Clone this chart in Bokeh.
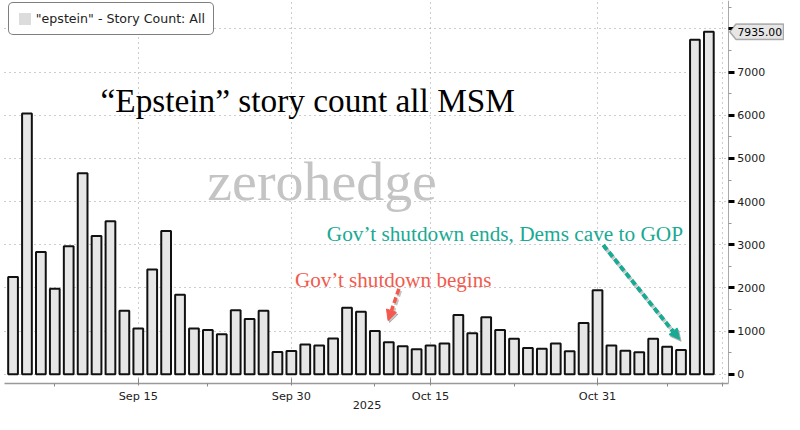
from datetime import datetime
from bokeh.plotting import figure
from bokeh.models import (Range1d, FixedTicker, Label, Arrow, NormalHead,
                          PolyAnnotation, Legend, LegendItem)
from bokeh.embed import file_html
from bokeh.resources import INLINE

# ---- data (business days, Bloomberg story count) ----
dates = [
    "2025-09-02", "2025-09-03", "2025-09-04", "2025-09-05", "2025-09-08",
    "2025-09-09", "2025-09-10", "2025-09-11", "2025-09-12", "2025-09-15",
    "2025-09-16", "2025-09-17", "2025-09-18", "2025-09-19", "2025-09-22",
    "2025-09-23", "2025-09-24", "2025-09-25", "2025-09-26", "2025-09-29",
    "2025-09-30", "2025-10-01", "2025-10-02", "2025-10-03", "2025-10-06",
    "2025-10-07", "2025-10-08", "2025-10-09", "2025-10-10", "2025-10-14",
    "2025-10-15", "2025-10-16", "2025-10-17", "2025-10-20", "2025-10-21",
    "2025-10-22", "2025-10-23", "2025-10-24", "2025-10-27", "2025-10-28",
    "2025-10-29", "2025-10-30", "2025-10-31", "2025-11-03", "2025-11-04",
    "2025-11-05", "2025-11-06", "2025-11-07", "2025-11-10", "2025-11-12",
    "2025-11-13",
]
story_count = [
    2252, 6042, 2832, 1984, 2965, 4660, 3202, 3545, 1471, 1061,
    2430, 3322, 1842, 1061, 1025, 928, 1485, 1284, 1475, 520,
    542, 691, 669, 832, 1545, 1449, 1003, 742, 653, 580,
    669, 713, 1373, 950, 1322, 1025, 825, 609, 593, 713,
    535, 1188, 1946, 669, 549, 513, 825, 638, 564, 7750,
    7935,
]
axis_dates = dates + ["2025-11-14"]
major_tick_dates = ["2025-09-15", "2025-09-30", "2025-10-15", "2025-10-31"]
minor_tick_dates = ["2025-09-05", "2025-09-22", "2025-10-08", "2025-10-23",
                    "2025-11-07", "2025-11-14"]
grid_dates = major_tick_dates + ["2025-11-14"]
y_ticks = [0, 1000, 2000, 3000, 4000, 5000, 6000, 7000, 8000]
year_label = "2025"
series_name = '"epstein" - Story Count: All'
title_text = "\u201cEpstein\u201d story count all MSM"
watermark = "zerohedge"
note_begin = "Gov\u2019t shutdown begins"
note_end = "Gov\u2019t shutdown ends, Dems cave to GOP"

idx = list(range(len(dates)))
pos = {d: i for i, d in enumerate(axis_dates)}

SANS = "DejaVu Sans"
SERIF = "Liberation Serif"
RED = "#f35a4d"
TEAL = "#19aa94"
BAR_FILL = "#e6e6e6"

W, H = 784, 414          # canvas
REF_W, REF_H = 800, 430  # layout grid
BAR0, BAR_STEP = 12.8, 14.2      # layout grid: first bar centre, bar pitch
ZERO, PX_PER_UNIT = 388.3, 0.04485


def rx(px):
    """layout-grid x pixel -> data x"""
    return (px - BAR0) / BAR_STEP


def ry(py):
    """layout-grid y pixel -> data y"""
    return (ZERO - py) / PX_PER_UNIT


def fs(size):
    return f"{size * W / REF_W:.1f}px"


p = figure(width=W, height=H, output_backend="svg", toolbar_location=None,
           x_range=Range1d(rx(0), rx(REF_W)), y_range=Range1d(ry(REF_H), ry(0)),
           y_axis_location="right", min_border=0, min_border_left=0,
           min_border_top=0, min_border_right=0, min_border_bottom=0,
           outline_line_color=None, background_fill_color="white",
           border_fill_color="white")

FRAME_L, FRAME_R, FRAME_B, FRAME_T = rx(4), rx(742.5), ry(398.3), ry(0)

bars = p.vbar(x=idx, top=story_count, bottom=0, width=0.7,
              fill_color=BAR_FILL, line_color="#111111", line_width=2)

# grid
p.xgrid.ticker = FixedTicker(ticks=[pos[d] for d in grid_dates])
p.ygrid.ticker = FixedTicker(ticks=y_ticks)
for g in (p.xgrid, p.ygrid):
    g.grid_line_color = "#9a9a9a"
    g.grid_line_dash = "1 4"
    g.grid_line_width = 1
p.xgrid.cross_bounds = (FRAME_B, FRAME_T)
p.ygrid.cross_bounds = (FRAME_L, FRAME_R)

# x axis
xa = p.xaxis[0]
xa.fixed_location = FRAME_B
xa.bounds = (FRAME_L, FRAME_R)
xa.ticker = FixedTicker(ticks=[pos[d] for d in major_tick_dates],
                        minor_ticks=[pos[d] for d in minor_tick_dates])
xa.major_label_overrides = {
    pos[d]: datetime.strptime(d, "%Y-%m-%d").strftime("%b %-d")
    for d in major_tick_dates}
xa.axis_line_color = "#999999"
xa.axis_line_width = 1.5
xa.major_tick_line_color = "#888888"
xa.major_tick_in = 5
xa.major_tick_out = 2
xa.minor_tick_line_color = "#888888"
xa.minor_tick_in = 0
xa.minor_tick_out = 3
xa.major_label_standoff = 3
xa.major_label_text_font = SANS
xa.major_label_text_font_size = fs(11.5)
xa.major_label_text_color = "#222222"

# y axis (right)
ya = p.yaxis[0]
ya.fixed_location = FRAME_R
ya.bounds = (FRAME_B, FRAME_T)
ya.ticker = FixedTicker(ticks=y_ticks, minor_ticks=[t + 500 for t in y_ticks])
ya.major_label_overrides = {y_ticks[-1]: ""}
ya.axis_line_color = "#aaaaaa"
ya.axis_line_width = 1
ya.major_tick_line_color = "black"
ya.major_tick_line_width = 3
ya.major_tick_in = 0
ya.major_tick_out = 6
ya.minor_tick_line_color = "#999999"
ya.minor_tick_in = 0
ya.minor_tick_out = 3
ya.major_label_standoff = 3
ya.major_label_text_font = SANS
ya.major_label_text_font_size = fs(11.2)
ya.major_label_text_color = "#222222"

# year label under axis
p.add_layout(Label(x=rx(374), y=ry(420.5), text=year_label,
                   text_font=SANS, text_font_size=fs(11.5),
                   text_color="#222222", text_align="center",
                   text_baseline="alphabetic"))

# watermark & title
p.add_layout(Label(x=rx(211), y=ry(187), text=watermark,
                   text_font=SERIF, text_font_size=fs(57),
                   text_color="#c4c4c4", text_align="left",
                   text_baseline="alphabetic"))
p.add_layout(Label(x=rx(313.5), y=ry(103.5), text=title_text,
                   text_font=SERIF, text_font_size=fs(34),
                   text_color="black", text_align="center",
                   text_baseline="alphabetic"))

# annotations
p.add_layout(Label(x=rx(300.5), y=ry(290.5), text=note_begin,
                   text_font=SERIF, text_font_size=fs(21.5),
                   text_color=RED, text_align="left",
                   text_baseline="alphabetic"))
p.add_layout(Label(x=rx(696.5), y=ry(242.5), text=note_end,
                   text_font=SERIF, text_font_size=fs(21.7),
                   text_color=TEAL, text_align="right",
                   text_baseline="alphabetic"))


def add_arrow(xs, ys, xe, ye, color, width):
    for dx, dy, col, alpha in ((1.5, 2, "#555555", 0.35), (0, 0, color, 1.0)):
        p.add_layout(Arrow(
            end=NormalHead(size=10.5, fill_color=col, line_color=col,
                           fill_alpha=alpha, line_alpha=alpha),
            x_start=rx(xs + dx), y_start=ry(ys + dy),
            x_end=rx(xe + dx), y_end=ry(ye + dy),
            line_color=col, line_alpha=alpha, line_width=width,
            line_dash="6 3"))


add_arrow(406.5, 299.5, 395.5, 332.5, RED, 3.5)
add_arrow(615, 254, 693, 352, TEAL, 4)

# last value tag
last = story_count[-1]
half = ry(0) - ry(8)  # 8 px in data units
p.add_layout(PolyAnnotation(
    xs=[rx(744), rx(750.5), rx(799), rx(799), rx(750.5)],
    ys=[last, last + half, last + half, last - half, last - half],
    fill_color="#e6e6e6", fill_alpha=1, line_color="black", line_width=1.5))
p.add_layout(Label(x=rx(752), y=last, text=f"{last:.2f}",
                   text_font=SANS, text_font_size=fs(11),
                   text_color="black", text_align="left",
                   text_baseline="middle"))

# legend (swatch from an invisible copy of the series, no outline)
swatch = p.vbar(x=idx, top=story_count, bottom=0, width=0.7,
                fill_color="#dcdcdc", line_color=None, visible=False)
legend = Legend(items=[LegendItem(label=series_name, renderers=[swatch])],
                location=(8 * W / REF_W, (REF_H - 36) * H / REF_H), margin=0,
                padding=8, glyph_width=15, glyph_height=15, label_height=15,
                label_standoff=4, label_text_font=SANS,
                label_text_font_size=fs(12.9), label_text_color="#222222",
                border_line_color="black", border_line_width=1,
                background_fill_color="white", background_fill_alpha=1)
if "border_radius" in Legend.properties():
    legend.border_radius = 5
p.add_layout(legend)

open("out.html", "w").write(file_html(p, INLINE))
